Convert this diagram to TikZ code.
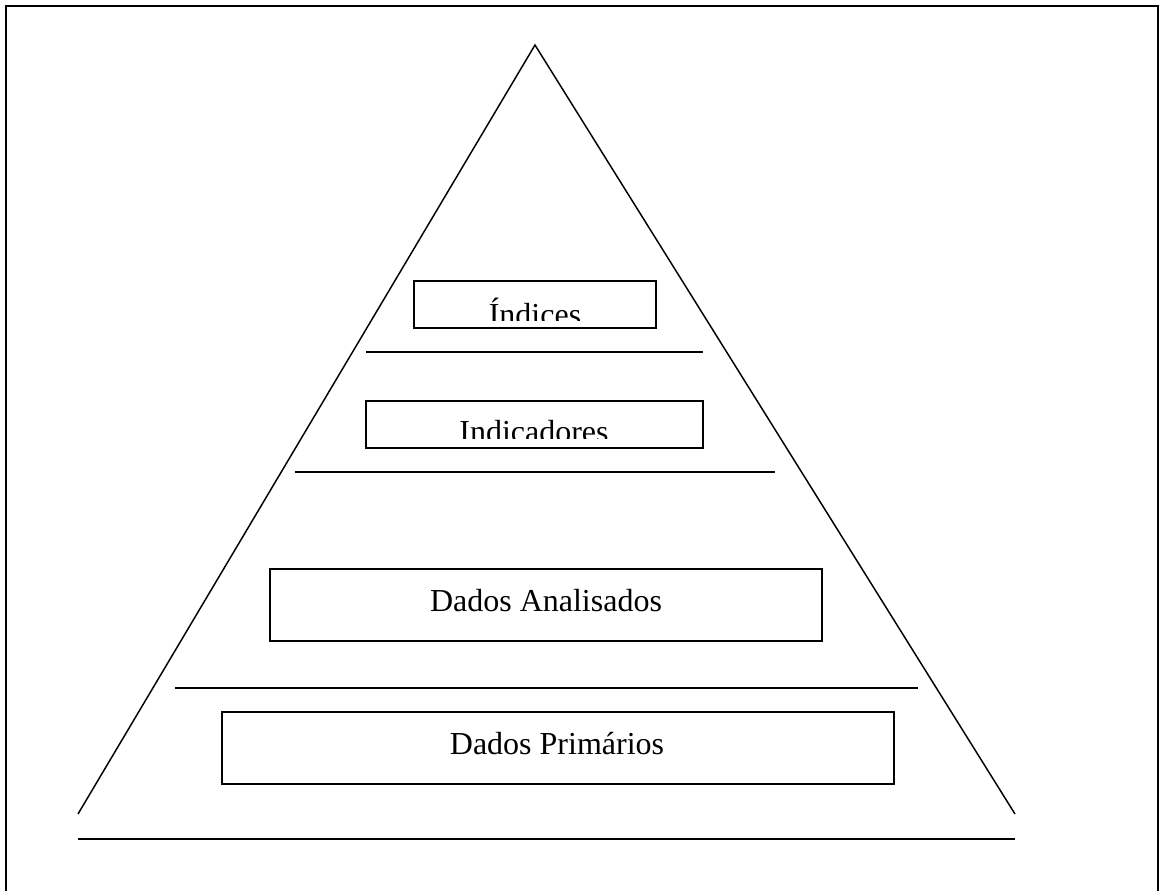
\documentclass[tikz,border=0pt]{standalone}
\usepackage{fontspec}
\setmainfont{Liberation Serif}
\begin{document}
\begin{tikzpicture}[x=0.75pt,y=-0.75pt,
  frameline/.style={line width=1.8pt},
  edge/.style={line width=1.1pt},
  sep/.style={line width=1.5pt},
  level/.style={draw,line width=1.5pt,rectangle,inner sep=0pt},
  lbl/.style={font=\fontsize{24}{28}\selectfont,inner sep=0pt,anchor=base}]
\useasboundingbox (0,0) rectangle (1161,890);
% outer frame (bottom edge lies outside the picture)
\coordinate (f1) at (6,892);
\coordinate (f2) at (6,6);
\coordinate (f3) at (1158,6);
\coordinate (f4) at (1158,892);
\draw[frameline] (f1) -- (f2) -- (f3) -- (f4);
% pyramid
\coordinate (apex) at (535,45);
\coordinate (bl) at (78,814);
\coordinate (br) at (1015,814);
\draw[edge] (bl) -- (apex) -- (br);
% separators
\coordinate (s1a) at (366,352); \coordinate (s1b) at (703,352);
\coordinate (s2a) at (295,472); \coordinate (s2b) at (775,472);
\coordinate (s3a) at (175,688); \coordinate (s3b) at (918,688);
\coordinate (s4a) at (78,839);  \coordinate (s4b) at (1015,839);
\draw[sep] (s1a) -- (s1b);
\draw[sep] (s2a) -- (s2b);
\draw[sep] (s3a) -- (s3b);
\draw[sep] (s4a) -- (s4b);
% level boxes
\node[level,minimum width=181.5pt,minimum height=35.25pt] (bInd) at (535,304.5) {};
\node[level,minimum width=252.75pt,minimum height=35.25pt] (bIndic) at (534.5,424.5) {};
\node[level,minimum width=414pt,minimum height=54pt] (bAnal) at (546,605) {};
\node[level,minimum width=504pt,minimum height=54pt] (bPrim) at (558,748) {};
% labels (top two are clipped by their boxes, as printed)
\begin{scope}
\clip (0,0) rectangle (1161,320);
\node[lbl] (tInd) at (535,325) {Índices};
\end{scope}
\begin{scope}
\clip (0,0) rectangle (1161,438);
\node[lbl] (tIndic) at (534,442) {Indicadores};
\end{scope}
\node[lbl] (tAnal) at (546,611) {Dados Analisados};
\node[lbl] (tPrim) at (557,754) {Dados Primários};
\end{tikzpicture}
\end{document}
